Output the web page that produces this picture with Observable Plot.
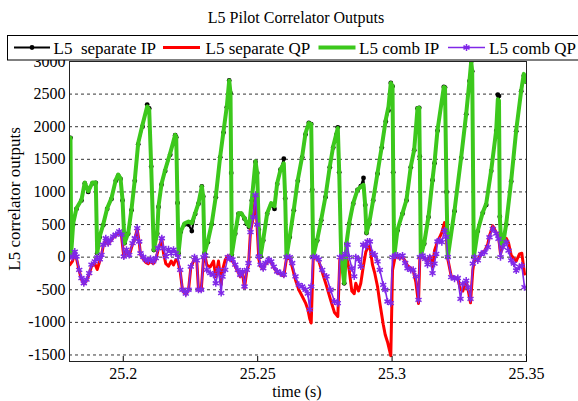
<!DOCTYPE html>
<html>
<head>
<meta charset="utf-8">
<script src="https://cdn.jsdelivr.net/npm/d3@7"></script>
<script src="https://cdn.jsdelivr.net/npm/@observablehq/plot@0.6"></script>
<style>
  html, body { margin: 0; padding: 0; background: #fff; }
  #chart { width: 578px; height: 401px; overflow: hidden; }
</style>
</head>
<body>
<div id="chart"></div>
<script>
// ---------- data (time in seconds) ----------
const tIP = [25.18037,25.18063,25.18138,25.18260,25.18446,25.18569,25.18696,25.18856,25.18978,25.19030,
25.19127,25.19254,25.19402,25.19562,25.19722,25.19812,25.19897,25.19972,25.20046,25.20184,
25.20306,25.20429,25.20556,25.20716,25.20890,25.20965,25.21039,25.21136,25.21262,25.21311,
25.21422,25.21560,25.21746,25.21932,25.21969,25.22018,25.22055,25.22140,25.22278,25.22427,
25.22550,25.22676,25.22799,25.22922,25.22974,25.23022,25.23145,25.23294,25.23442,25.23606,
25.23729,25.23852,25.23941,25.23989,25.24015,25.24038,25.24164,25.24287,25.24387,25.24510,
25.24596,25.24685,25.24782,25.24919,25.24982,25.25042,25.25105,25.25206,25.25354,25.25503,
25.25626,25.25726,25.25849,25.25972,25.26024,25.26072,25.26195,25.26344,25.26493,25.26656,
25.26779,25.26902,25.26991,25.27028,25.27066,25.27214,25.27363,25.27523,25.27683,25.27810,
25.27932,25.27981,25.28033,25.28107,25.28219,25.28304,25.28405,25.28554,25.28714,25.28836,
25.28937,25.29000,25.29048,25.29149,25.29298,25.29458,25.29618,25.29766,25.29867,25.29952,
25.30016,25.30042,25.30079,25.30202,25.30388,25.30536,25.30696,25.30823,25.30946,25.31009,
25.31031,25.31068,25.31195,25.31355,25.31504,25.31578,25.31690,25.31924,25.31969,25.32024,
25.32073,25.32322,25.32571,25.32757,25.32880,25.32943,25.32980,25.33040,25.33189,25.33375,
25.33501,25.33687,25.33873,25.33933,25.33977,25.34007,25.34059,25.34119,25.34245,25.34431,
25.34617,25.34803,25.34900,25.34989];

const separateIP = [1830,60,500,740,870,1130,1000,1130,1140,60,
310,490,740,890,1170,1250,1200,870,215,360,
720,1170,1730,2000,2340,2280,1390,110,360,770,
1110,1320,1570,1870,1840,830,60,390,500,500,
400,660,820,1085,930,60,230,510,920,1530,
1910,2300,2710,2515,1290,40,360,665,665,590,
510,460,870,1460,1290,420,10,255,665,800,
740,1120,1340,1510,900,10,310,720,1170,1530,
1880,2060,2040,1035,10,255,565,920,1380,1680,
1880,1990,1300,10,-400,205,510,820,1030,1090,
1215,800,370,510,870,1280,1680,2080,2250,2670,
2620,1300,10,410,665,870,1380,1640,2280,2290,
1545,10,205,615,1180,1440,1940,2610,2600,1000,
0,705,1520,2190,2700,3000,2850,0,400,680,
800,1320,1935,2490,2470,620,205,180,500,1160,
1930,2545,2780,2690];

const combIP = [1830,60,520,750,880,1145,1010,1145,1145,60,
320,500,750,905,1185,1265,1210,880,215,370,
730,1185,1750,2030,2310,2260,1390,110,370,780,
1120,1340,1595,1875,1840,830,60,395,520,545,
520,675,830,1085,930,60,240,520,930,1545,
1930,2310,2710,2515,1290,40,370,675,675,600,
520,470,880,1470,1290,420,10,265,675,830,
780,1135,1340,1440,900,10,320,730,1185,1545,
1900,2055,2040,1035,10,265,575,930,1390,1700,
1900,1980,1300,10,-400,215,520,830,1035,1080,
1110,800,370,520,880,1290,1700,2110,2310,2670,
2620,1300,10,420,675,880,1390,1650,2285,2290,
1545,10,215,625,1190,1450,1950,2610,2600,1000,
0,715,1535,2200,2710,3000,2850,0,410,690,
820,1330,1945,2420,2400,620,205,180,510,1175,
1945,2555,2810,2685];

const tQP = [25.18011,25.18112,25.18197,25.18260,25.18361,25.18446,25.18532,25.18632,25.18733,25.18818,
25.18941,25.19030,25.19127,25.19190,25.19254,25.19350,25.19440,25.19525,25.19626,25.19722,
25.19849,25.19934,25.20020,25.20120,25.20221,25.20344,25.20429,25.20518,25.20593,25.20641,
25.20742,25.20838,25.20928,25.21013,25.21114,25.21210,25.21300,25.21434,25.21497,25.21582,
25.21683,25.21783,25.21869,25.21954,25.22029,25.22118,25.22204,25.22326,25.22427,25.22512,
25.22650,25.22736,25.22799,25.22899,25.22985,25.23048,25.23108,25.23234,25.23357,25.23442,
25.23543,25.23643,25.23692,25.23792,25.23889,25.23978,25.24064,25.24164,25.24261,25.24350,
25.24436,25.24510,25.24596,25.24659,25.24733,25.24834,25.24919,25.24982,25.25042,25.25105,
25.25206,25.25291,25.25414,25.25503,25.25600,25.25726,25.25849,25.25972,25.26072,25.26195,
25.26284,25.26407,25.26530,25.26656,25.26779,25.26865,25.26939,25.26991,25.27066,25.27188,
25.27274,25.27400,25.27560,25.27709,25.27858,25.27981,25.28056,25.28156,25.28256,25.28342,
25.28405,25.28502,25.28591,25.28650,25.28751,25.28836,25.28926,25.29022,25.29086,25.29171,
25.29272,25.29357,25.29458,25.29543,25.29670,25.29744,25.29830,25.29952,25.30016,25.30116,
25.30202,25.30287,25.30388,25.30488,25.30574,25.30696,25.30786,25.30882,25.30983,25.31031,
25.31132,25.31232,25.31318,25.31403,25.31504,25.31578,25.31641,25.31690,25.31764,25.31850,
25.31950,25.32013,25.32073,25.32199,25.32322,25.32445,25.32545,25.32631,25.32757,25.32817,
25.32917,25.33003,25.33066,25.33189,25.33315,25.33438,25.33561,25.33624,25.33747,25.33873,
25.33959,25.34033,25.34119,25.34245,25.34331,25.34431,25.34528,25.34617,25.34740,25.34826,
25.34926];

const separateQP = [-120,-60,60,-20,-210,-340,-410,-360,-260,-140,
-100,-190,-60,20,170,270,200,250,300,330,
380,330,0,100,20,200,280,430,230,40,
-30,-80,-100,-60,-100,-40,120,280,60,-100,
-140,-60,-120,-40,-60,-220,-510,-570,-510,-160,
-20,-60,-510,-510,-20,10,-120,-150,-60,-300,
-60,-420,-200,-40,20,-40,-60,-140,-220,-300,
-250,-470,-210,-120,400,600,940,450,-30,-140,
-180,-100,-60,-80,-160,-240,-260,-290,-20,-20,
-150,-350,-500,-600,-700,-800,-950,-1010,-20,-10,
-60,-230,-440,-650,-850,-910,-20,0,30,-60,
-200,-520,-560,-400,-520,-400,-150,80,140,170,
-120,-250,-450,-700,-1030,-1190,-1300,-1510,-200,10,
0,-20,0,-60,-130,-170,-200,-380,-710,-20,
0,-20,-80,10,-150,100,180,250,300,380,
530,350,-30,-290,-310,-330,-500,-520,-380,-480,
-700,-200,-20,-50,60,90,200,330,480,380,
320,50,180,290,220,30,-20,-60,50,60,
-260];

const combQP = [10,0,85,10,-195,-320,-400,-345,-245,-115,
-65,-5,-35,35,190,290,215,265,320,345,
395,345,10,115,35,215,290,445,240,60,
5,-40,-50,-25,-65,-15,140,290,140,10,
120,60,115,60,0,-195,-500,-560,-500,-145,
0,-50,-500,-500,0,25,-195,-245,-270,-400,
-195,-550,-300,-195,0,-25,-35,-115,-195,-270,
-220,-450,-195,-90,385,615,950,500,10,-115,
-170,-90,-40,-65,-145,-220,-245,-270,0,0,
-90,-295,-425,-450,-500,-560,-805,-450,0,0,
-35,-195,-295,-500,-680,-705,0,0,50,190,
0,-170,-295,0,-35,-145,190,165,240,240,
60,35,-65,-195,-425,-500,-680,-705,0,25,
25,0,25,-90,-170,-195,-195,-295,-655,0,
25,-25,-115,0,-245,-100,50,240,255,230,
410,310,0,-305,-330,-320,-640,-410,-360,-460,
-640,-100,0,-50,50,75,155,305,435,360,
280,0,155,230,100,-50,-100,-205,-150,-130,
-460];

const xTicks = [25.2, 25.25, 25.3, 25.35];
const yTicks = [-1500, -1000, -500, 0, 500, 1000, 1500, 2000, 2500, 3000];
const seriesNames = ["L5  separate IP", "L5 separate QP", "L5 comb IP", "L5 comb QP"];
const title = "L5 Pilot Correlator Outputs";
const xLabel = "time (s)";
const yLabel = "L5 correlator outputs";

// ---------- styles ----------
const cBlack = "#000000", cRed = "#ff0000", cGreen = "#3cc81c", cPurple = "#8028e8";
const FONT = "Liberation Serif, Times New Roman, serif";

const ip = tIP.map((t, i) => ({t, sep: separateIP[i], comb: combIP[i]}));
const qp = tQP.map((t, i) => ({t, sep: separateQP[i], comb: combQP[i]}));

const svg = Plot.plot({
  width: 578, height: 401,
  marginLeft: 69, marginRight: 52, marginTop: 61, marginBottom: 40,
  style: {fontFamily: FONT, fontSize: "16px", background: "white", color: "black", overflow: "visible"},
  x: {domain: [25.18, 25.35]},
  y: {domain: [-1600, 3000]},
  marks: [
    Plot.gridY(yTicks, {stroke: "#000", strokeOpacity: 1, strokeWidth: 0.8, strokeDasharray: "3,3"}),
    Plot.line(ip, {x: "t", y: "sep", stroke: cBlack, strokeWidth: 2, clip: true}),
    Plot.dot(ip, {x: "t", y: "sep", r: 2.4, fill: cBlack, stroke: "none", clip: true}),
    Plot.line(qp, {x: "t", y: "sep", stroke: cRed, strokeWidth: 3, clip: true}),
    Plot.line(ip, {x: "t", y: "comb", stroke: cGreen, strokeWidth: 4, clip: true}),
    Plot.line(qp, {x: "t", y: "comb", stroke: cPurple, strokeWidth: 1.6, clip: true}),
    Plot.dot(qp, {x: "t", y: "comb", symbol: "asterisk", r: 3.3, stroke: cPurple, strokeWidth: 1.5, clip: true}),
    Plot.frame({stroke: "#222", strokeWidth: 1}),
    Plot.axisX(xTicks, {tickSize: -5, tickPadding: 11, tickFormat: d => `${+d.toFixed(3)}`, label: null, fontSize: 16, fontFamily: FONT}),
    Plot.axisY(yTicks, {tickSize: 0, tickPadding: 4, tickFormat: d => String(d), label: null, fontSize: 16, fontFamily: FONT})
  ]
});

const s = d3.select(svg);

// title
s.append("text").attr("x", 296).attr("y", 23).attr("text-anchor", "middle")
  .attr("font-size", 16).attr("fill", "black").text(title);

// axis labels
s.append("text").attr("x", 297).attr("y", 397).attr("text-anchor", "middle")
  .attr("font-size", 16).attr("fill", "black").text(xLabel);
s.append("text").attr("transform", "translate(20,199) rotate(-90)").attr("text-anchor", "middle")
  .attr("font-size", 17).attr("fill", "black").text(yLabel);

// legend
const lg = s.append("g");
lg.append("rect").attr("x", 7.5).attr("y", 35.5).attr("width", 580).attr("height", 24.5)
  .attr("fill", "white").attr("stroke", "black").attr("stroke-width", 1);
const ly = 47.5;
const entries = [
  {x0: 14, x1: 50, tx: 53.5, color: cBlack, w: 2, marker: "dot"},
  {x0: 163, x1: 200, tx: 205.5, color: cRed, w: 3, marker: null},
  {x0: 318.5, x1: 355.5, tx: 359, color: cGreen, w: 4, marker: null},
  {x0: 448, x1: 485, tx: 489, color: cPurple, w: 1.6, marker: "asterisk"}
];
entries.forEach((e, i) => {
  lg.append("line").attr("x1", e.x0).attr("x2", e.x1).attr("y1", ly).attr("y2", ly)
    .attr("stroke", e.color).attr("stroke-width", e.w);
  const mx = (e.x0 + e.x1) / 2;
  if (e.marker === "dot") {
    lg.append("circle").attr("cx", mx).attr("cy", ly).attr("r", 2.4).attr("fill", e.color);
  } else if (e.marker === "asterisk") {
    lg.append("path").attr("transform", `translate(${mx},${ly})`)
      .attr("d", d3.symbol(d3.symbolAsterisk, Math.PI * 3.3 * 3.3)())
      .attr("fill", "none").attr("stroke", e.color).attr("stroke-width", 1.5);
  }
  lg.append("text").attr("x", e.tx).attr("y", ly + 6).attr("text-anchor", "start")
    .attr("xml:space", "preserve").style("white-space", "pre")
    .attr("font-size", 17).attr("fill", "black").text(seriesNames[i]);
});

// force serif font on every text
s.selectAll("text").style("font-family", FONT).attr("fill", "black");

document.getElementById("chart").appendChild(svg);
</script>
</body>
</html>
